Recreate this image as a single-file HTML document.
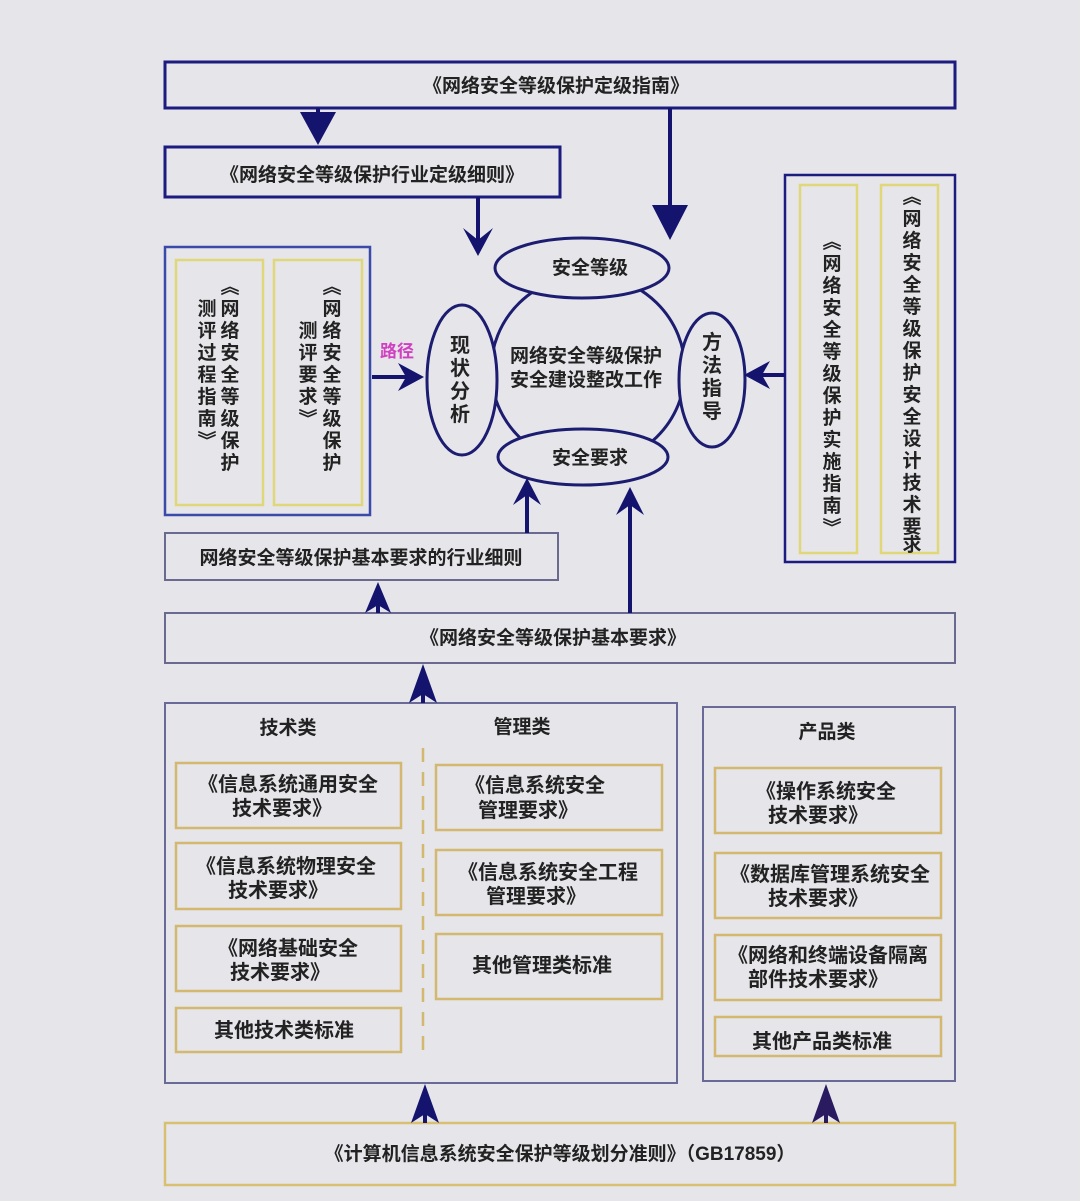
<!DOCTYPE html>
<html><head><meta charset="utf-8"><style>
body{margin:0;background:#e5e5ea;}
svg{display:block}
text{font-family:"Liberation Sans","Noto Sans CJK SC",sans-serif;fill:#222;font-weight:bold}
</style></head><body>
<svg width="1080" height="1201" viewBox="0 0 1080 1201" xmlns="http://www.w3.org/2000/svg">
<rect width="1080" height="1201" fill="#e5e5ea"/>
<g stroke="#1c1c80" fill="none">
<rect x="165" y="62" width="790" height="46" stroke-width="3"/>
<rect x="165" y="147" width="395" height="50" stroke-width="3"/>
<rect x="165" y="247" width="205" height="268" stroke="#3a4aa8" stroke-width="2.5"/>
<rect x="785" y="175" width="170" height="387" stroke-width="2.5"/>
<rect x="165" y="533" width="393" height="47" stroke="#6a6a90" stroke-width="2"/>
<rect x="165" y="613" width="790" height="50" stroke="#6a6a90" stroke-width="2"/>
<rect x="165" y="703" width="512" height="380" stroke="#6a6a98" stroke-width="2"/>
<rect x="703" y="707" width="252" height="374" stroke="#6a6a98" stroke-width="2"/>
</g>
<g stroke="#e0d878" stroke-width="2.5" fill="none">
<rect x="176" y="260" width="87" height="245"/>
<rect x="274" y="260" width="88" height="245"/>
<rect x="800" y="185" width="57" height="368"/>
<rect x="881" y="185" width="57" height="368"/>
</g>
<rect x="165" y="1123" width="790" height="62" fill="none" stroke="#d9c070" stroke-width="2.5"/>
<g stroke="#d4b870" stroke-width="2.5" fill="none">
<rect x="176" y="763" width="225" height="65"/>
<rect x="176" y="843" width="225" height="66"/>
<rect x="176" y="926" width="225" height="65"/>
<rect x="176" y="1008" width="225" height="44"/>
<rect x="436" y="765" width="226" height="65"/>
<rect x="436" y="850" width="226" height="65"/>
<rect x="436" y="934" width="226" height="65"/>
<rect x="715" y="768" width="226" height="65"/>
<rect x="715" y="853" width="226" height="65"/>
<rect x="715" y="935" width="226" height="65"/>
<rect x="715" y="1017" width="226" height="39"/>
</g>
<line x1="423" y1="748" x2="423" y2="1055" stroke="#d4b870" stroke-width="2.5" stroke-dasharray="14,10"/>
<g stroke="#1c1c70" stroke-width="3" fill="#e5e5ea">
<ellipse cx="588" cy="370" rx="97" ry="95"/>
<ellipse cx="582" cy="268" rx="87" ry="30"/>
<ellipse cx="583" cy="457" rx="85" ry="28"/>
<ellipse cx="462" cy="380" rx="35" ry="75"/>
<ellipse cx="712" cy="380" rx="33" ry="67"/>
</g>
<g stroke="#14146e" stroke-width="4" fill="#14146e">
<line x1="318" y1="108" x2="318" y2="120"/><path d="M300,112 L336,112 L318,145 Z" stroke="none"/>
<line x1="670" y1="108" x2="670" y2="210"/><path d="M652,205 L688,205 L670,240 Z" stroke="none"/>
<line x1="478" y1="197" x2="478" y2="250"/><path d="M463,228 L478,256 L493,228 L478,240 Z" stroke="none"/>
<line x1="372" y1="377" x2="415" y2="377"/><path d="M398,363 L424,377 L398,391 L406,377 Z" stroke="none"/>
<line x1="785" y1="375" x2="752" y2="375"/><path d="M770,361 L744,375 L770,389 L762,375 Z" stroke="none"/>
<line x1="527" y1="533" x2="527" y2="490"/><path d="M513,505 L527,478 L541,505 L527,495 Z" stroke="none"/>
<line x1="630" y1="613" x2="630" y2="498"/><path d="M616,515 L630,487 L644,515 L630,505 Z" stroke="none"/>
<line x1="378" y1="613" x2="378" y2="592"/><path d="M365,613 L378,582 L391,613 L378,605 Z" stroke="none"/>
<line x1="423" y1="703" x2="423" y2="675"/><path d="M409,703 L423,664 L437,703 L423,694 Z" stroke="none"/>
<line x1="425" y1="1123" x2="425" y2="1095"/><path d="M411,1123 L425,1084 L439,1123 L425,1114 Z" stroke="none"/>
<line x1="826" y1="1123" x2="826" y2="1095" stroke="#2a1a60"/><path d="M812,1123 L826,1084 L840,1123 L826,1114 Z" stroke="none" fill="#2a1a60"/>
</g>
<g font-size="19" text-anchor="middle">
<text x="556" y="92">《网络安全等级保护定级指南》</text>
<text x="372" y="181">《网络安全等级保护行业定级细则》</text>
<text x="590" y="274">安全等级</text>
<text x="590" y="464">安全要求</text>
<text x="586" y="362">网络安全等级保护</text>
<text x="586" y="386">安全建设整改工作</text>
<text x="361" y="564">网络安全等级保护基本要求的行业细则</text>
<text x="553" y="644">《网络安全等级保护基本要求》</text>
<text x="288" y="734">技术类</text>
<text x="522" y="733">管理类</text>
<text x="827" y="738">产品类</text>
</g>
<g font-size="20" text-anchor="middle">
<text x="288" y="791">《信息系统通用安全</text><text x="282" y="815">技术要求》</text>
<text x="286" y="873">《信息系统物理安全</text><text x="278" y="897">技术要求》</text>
<text x="288" y="955">《网络基础安全</text><text x="280" y="979">技术要求》</text>
<text x="284" y="1037">其他技术类标准</text>
<text x="535" y="792">《信息系统安全</text><text x="528" y="817">管理要求》</text>
<text x="548" y="879">《信息系统安全工程</text><text x="536" y="903">管理要求》</text>
<text x="542" y="972">其他管理类标准</text>
<text x="826" y="798">《操作系统安全</text><text x="818" y="822">技术要求》</text>
<text x="830" y="881">《数据库管理系统安全</text><text x="818" y="905">技术要求》</text>
<text x="828" y="962">《网络和终端设备隔离</text><text x="818" y="986">部件技术要求》</text>
<text x="822" y="1048">其他产品类标准</text>
<text x="560" y="1160" font-weight="normal" font-size="19">《计算机信息系统安全保护等级划分准则》（GB17859）</text>
<text x="397" y="357" font-size="17" style="fill:#d040c0">路径</text>
</g>
<g font-size="20" text-anchor="middle">
<text x="460" y="352">现</text><text x="460" y="375">状</text><text x="460" y="398">分</text><text x="460" y="421">析</text>
<text x="712" y="349">方</text><text x="712" y="372">法</text><text x="712" y="395">指</text><text x="712" y="418">导</text>
</g>
<g font-size="19" text-anchor="middle">
<text x="230" y="293">︽</text>
<text x="230" y="315">网</text><text x="230" y="337">络</text><text x="230" y="359">安</text><text x="230" y="381">全</text><text x="230" y="403">等</text><text x="230" y="425">级</text><text x="230" y="447">保</text><text x="230" y="469">护</text>
<text x="207" y="315">测</text><text x="207" y="337">评</text><text x="207" y="359">过</text><text x="207" y="381">程</text><text x="207" y="403">指</text><text x="207" y="425">南</text><text x="207" y="447">︾</text>
<text x="332" y="293">︽</text>
<text x="332" y="315">网</text><text x="332" y="337">络</text><text x="332" y="359">安</text><text x="332" y="381">全</text><text x="332" y="403">等</text><text x="332" y="425">级</text><text x="332" y="447">保</text><text x="332" y="469">护</text>
<text x="308" y="337">测</text><text x="308" y="359">评</text><text x="308" y="381">要</text><text x="308" y="403">求</text><text x="308" y="425">︾</text>
<text x="832" y="248">︽</text>
<text x="832" y="270">网</text><text x="832" y="292">络</text><text x="832" y="314">安</text><text x="832" y="336">全</text><text x="832" y="358">等</text><text x="832" y="380">级</text><text x="832" y="402">保</text><text x="832" y="424">护</text><text x="832" y="446">实</text><text x="832" y="468">施</text><text x="832" y="490">指</text><text x="832" y="512">南</text><text x="832" y="534">︾</text>
<text x="912" y="203">︽</text>
<text x="912" y="225">网</text><text x="912" y="247">络</text><text x="912" y="269">安</text><text x="912" y="291">全</text><text x="912" y="313">等</text><text x="912" y="335">级</text><text x="912" y="357">保</text><text x="912" y="379">护</text><text x="912" y="401">安</text><text x="912" y="423">全</text><text x="912" y="445">设</text><text x="912" y="467">计</text><text x="912" y="489">技</text><text x="912" y="511">术</text><text x="912" y="533">要</text><text x="912" y="551">求</text>
</g>
</svg>
</body></html>
